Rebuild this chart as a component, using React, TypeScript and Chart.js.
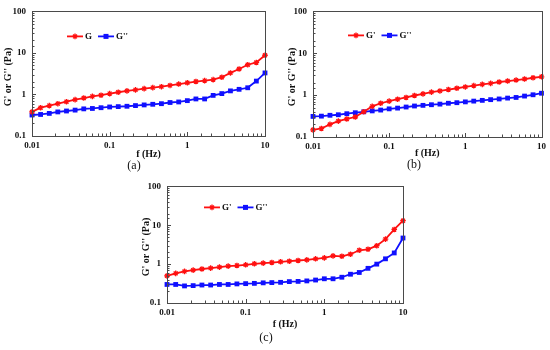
import React, { useEffect, useRef } from 'react';
import { Chart, registerables } from 'chart.js';

Chart.register(...registerables);

// Frequency (Hz), shared by all three panels
const freq = [0.01, 0.0129, 0.0167, 0.0215, 0.0278, 0.0359, 0.0464, 0.0599, 0.0774, 0.1, 0.129, 0.167, 0.215, 0.278, 0.359, 0.464, 0.599, 0.774, 1, 1.29, 1.67, 2.15, 2.78, 3.59, 4.64, 5.99, 7.74, 10];

// Panel (a)
const aG1 = [0.38, 0.48, 0.54, 0.6, 0.67, 0.75, 0.82, 0.9, 0.96, 1.05, 1.13, 1.22, 1.29, 1.38, 1.46, 1.54, 1.65, 1.78, 1.91, 2.05, 2.16, 2.28, 2.6, 3.3, 4.1, 5.2, 5.9, 8.8];
const aG2 = [0.32, 0.33, 0.35, 0.38, 0.4, 0.42, 0.45, 0.46, 0.48, 0.5, 0.51, 0.52, 0.54, 0.56, 0.58, 0.6, 0.64, 0.66, 0.71, 0.78, 0.78, 0.95, 1.05, 1.22, 1.33, 1.45, 2.1, 3.3];

// Panel (b)
const bG1 = [0.148, 0.16, 0.2, 0.24, 0.27, 0.3, 0.4, 0.54, 0.64, 0.72, 0.8, 0.88, 0.98, 1.07, 1.18, 1.26, 1.36, 1.46, 1.57, 1.69, 1.81, 1.91, 2.06, 2.17, 2.29, 2.42, 2.6, 2.74];
const bG2 = [0.31, 0.315, 0.33, 0.34, 0.36, 0.38, 0.4, 0.42, 0.44, 0.47, 0.49, 0.52, 0.55, 0.57, 0.59, 0.61, 0.64, 0.66, 0.69, 0.72, 0.75, 0.78, 0.81, 0.85, 0.88, 0.95, 1.02, 1.11];

// Panel (c)
const cG1 = [0.5, 0.58, 0.65, 0.7, 0.75, 0.79, 0.84, 0.89, 0.92, 0.96, 1.02, 1.06, 1.1, 1.15, 1.19, 1.24, 1.29, 1.37, 1.45, 1.63, 1.59, 1.8, 2.27, 2.41, 2.98, 4.4, 7.8, 13.1];
const cG2 = [0.3, 0.3, 0.275, 0.28, 0.29, 0.29, 0.3, 0.3, 0.31, 0.315, 0.32, 0.33, 0.335, 0.34, 0.355, 0.36, 0.37, 0.39, 0.42, 0.42, 0.46, 0.55, 0.61, 0.78, 1.0, 1.37, 1.94, 4.7];

const xTickLabels = ['0.01', '0.1', '1', '10'];
const yTickLabels = ['0.1', '1', '10', '100'];

const yTitle = "G' or G'' (Pa)";
const xTitle = 'f (Hz)';

const SERIF = "'Liberation Serif', 'Times New Roman', serif";
const RED = '#ff1010';
const BLUE = '#1010ff';

type PanelCfg = {
  left: number; top: number; w: number; h: number;
  area: { l: number; t: number; r: number; b: number };
  g1: number[]; g2: number[];
  names: [string, string];
  legend: { dx: number; dy: number };
  yTitlePos: { x: number; y: number };
  xTitleY: number;
  caption: string; captionPos: { x: number; y: number };
};

function isDecade(v: number) {
  const e = Math.log10(v);
  return Math.abs(e - Math.round(e)) < 1e-6;
}

const decorPlugin = {
  id: 'decor',
  afterDraw(chart: any, _args: any, opts: any) {
    const ctx = chart.ctx;
    const ca = chart.chartArea;
    ctx.save();
    // frame
    ctx.strokeStyle = '#4a4a4a';
    ctx.lineWidth = 1;
    ctx.strokeRect(Math.round(ca.left) + 0.5, Math.round(ca.top) + 0.5, Math.round(ca.right - ca.left), Math.round(ca.bottom - ca.top));
    // inside ticks
    const xs = chart.scales.x;
    const ys = chart.scales.y;
    ctx.beginPath();
    xs.ticks.forEach((t: any) => {
      const px = Math.round(xs.getPixelForValue(t.value)) + 0.5;
      const len = isDecade(t.value) ? 4 : 2.5;
      ctx.moveTo(px, ca.bottom);
      ctx.lineTo(px, ca.bottom - len);
    });
    ys.ticks.forEach((t: any) => {
      const py = Math.round(ys.getPixelForValue(t.value)) + 0.5;
      const len = isDecade(t.value) ? 4 : 2.5;
      ctx.moveTo(ca.left, py);
      ctx.lineTo(ca.left + len, py);
    });
    ctx.stroke();

    // titles
    ctx.fillStyle = '#111';
    ctx.textAlign = 'center';
    ctx.textBaseline = 'middle';
    ctx.font = `bold 10px ${SERIF}`;
    ctx.fillText(xTitle, (ca.left + ca.right) / 2, opts.xTitleY);
    ctx.save();
    ctx.translate(opts.yTitlePos.x, opts.yTitlePos.y);
    ctx.rotate(-Math.PI / 2);
    ctx.fillText(yTitle, 0, 0);
    ctx.restore();
    ctx.font = `12px ${SERIF}`;
    ctx.fillText(opts.caption, opts.captionPos.x, opts.captionPos.y);

    // legend
    const ds = chart.data.datasets;
    let x = ca.left + opts.legend.dx;
    const y = ca.top + opts.legend.dy;
    ctx.font = `bold 9px ${SERIF}`;
    ctx.textAlign = 'left';
    ds.forEach((d: any, i: number) => {
      ctx.strokeStyle = d.borderColor;
      ctx.fillStyle = d.borderColor;
      ctx.lineWidth = 1.8;
      ctx.beginPath();
      ctx.moveTo(x, y);
      ctx.lineTo(x + 16, y);
      ctx.stroke();
      const cx = x + 8;
      if (i === 0) {
        ctx.lineWidth = 1.3;
        ctx.beginPath();
        const r = 2.8;
        ctx.moveTo(cx - r, y); ctx.lineTo(cx + r, y);
        ctx.moveTo(cx, y - r); ctx.lineTo(cx, y + r);
        ctx.moveTo(cx - r * 0.7, y - r * 0.7); ctx.lineTo(cx + r * 0.7, y + r * 0.7);
        ctx.moveTo(cx - r * 0.7, y + r * 0.7); ctx.lineTo(cx + r * 0.7, y - r * 0.7);
        ctx.stroke();
      } else {
        ctx.fillRect(cx - 2.5, y - 2.5, 5, 5);
      }
      ctx.fillStyle = '#111';
      ctx.fillText(d.label, x + 18, y + 0.5);
      x += 18 + ctx.measureText(d.label).width + 6;
    });
    ctx.restore();
  },
};

function Panel({ cfg }: { cfg: PanelCfg }) {
  const ref = useRef<HTMLCanvasElement | null>(null);
  useEffect(() => {
    if (!ref.current) return;
    const a = cfg.area;
    const tickFont = { family: SERIF, size: 9, weight: 'bold' as const };
    const chart = new Chart(ref.current, {
      type: 'line',
      data: {
        labels: freq,
        datasets: [
          {
            label: cfg.names[0],
            data: freq.map((f, i) => ({ x: f, y: cfg.g1[i] })),
            borderColor: RED,
            backgroundColor: RED,
            borderWidth: 1.8,
            pointStyle: 'star',
            pointRadius: 2.8,
            pointBorderWidth: 1.3,
            tension: 0,
            clip: false as any,
          },
          {
            label: cfg.names[1],
            data: freq.map((f, i) => ({ x: f, y: cfg.g2[i] })),
            borderColor: BLUE,
            backgroundColor: BLUE,
            borderWidth: 1.8,
            pointStyle: 'rect',
            pointRadius: 3.4,
            pointBorderWidth: 0,
            tension: 0,
            clip: false as any,
          },
        ],
      },
      options: {
        animation: false,
        responsive: false,
        events: [],
        layout: { padding: { left: 0, top: a.t, right: cfg.w - a.r, bottom: 0 } },
        plugins: {
          legend: { display: false },
          tooltip: { enabled: false },
          decor: {
            legend: cfg.legend,
            yTitlePos: cfg.yTitlePos,
            xTitleY: cfg.xTitleY,
            caption: cfg.caption,
            captionPos: cfg.captionPos,
          } as any,
        } as any,
        scales: {
          x: {
            type: 'logarithmic',
            min: 0.01,
            max: 10,
            grid: { display: false, drawTicks: false, tickLength: 0 },
            border: { display: false },
            afterFit: (s: any) => { s.height = cfg.h - a.b; },
            ticks: {
              autoSkip: false,
              maxRotation: 0,
              padding: 4,
              color: '#111',
              font: tickFont,
              callback: (v: any) => {
                const n = Number(v);
                return isDecade(n) ? xTickLabels[Math.round(Math.log10(n)) + 2] : '';
              },
            },
          },
          y: {
            type: 'logarithmic',
            min: 0.1,
            max: 100,
            grid: { display: false, drawTicks: false, tickLength: 0 },
            border: { display: false },
            afterFit: (s: any) => { s.width = a.l; },
            ticks: {
              autoSkip: false,
              padding: 6,
              color: '#111',
              font: tickFont,
              callback: (v: any) => {
                const n = Number(v);
                return isDecade(n) ? yTickLabels[Math.round(Math.log10(n)) + 1] : '';
              },
            },
          },
        } as any,
      },
      plugins: [decorPlugin],
    });
    return () => chart.destroy();
  }, [cfg]);
  return (
    <canvas
      ref={ref}
      width={cfg.w}
      height={cfg.h}
      style={{ position: 'absolute', left: cfg.left, top: cfg.top, width: cfg.w, height: cfg.h }}
    />
  );
}

const panels: PanelCfg[] = [
  {
    left: 0, top: 0, w: 275, h: 175,
    area: { l: 32, t: 7, r: 265, b: 136 },
    g1: aG1, g2: aG2, names: ['G', "G''"],
    legend: { dx: 35, dy: 25 },
    yTitlePos: { x: 8, y: 77 },
    xTitleY: 154,
    caption: '(a)', captionPos: { x: 134, y: 166 },
  },
  {
    left: 275, top: 0, w: 275, h: 175,
    area: { l: 38, t: 9, r: 268, b: 137 },
    g1: bG1, g2: bG2, names: ["G'", "G''"],
    legend: { dx: 35, dy: 24 },
    yTitlePos: { x: 17, y: 77 },
    xTitleY: 153,
    caption: '(b)', captionPos: { x: 139, y: 165 },
  },
  {
    left: 130, top: 175, w: 290, h: 175,
    area: { l: 37, t: 10, r: 273, b: 128 },
    g1: cG1, g2: cG2, names: ["G'", "G''"],
    legend: { dx: 37, dy: 21 },
    yTitlePos: { x: 16, y: 72 },
    xTitleY: 149,
    caption: '(c)', captionPos: { x: 136, y: 163 },
  },
];

export default function App() {
  return (
    <div style={{ position: 'absolute', left: 0, top: 0, width: 550, height: 350, background: '#fff', overflow: 'hidden' }}>
      {panels.map((p, i) => (
        <Panel key={i} cfg={p} />
      ))}
    </div>
  );
}
